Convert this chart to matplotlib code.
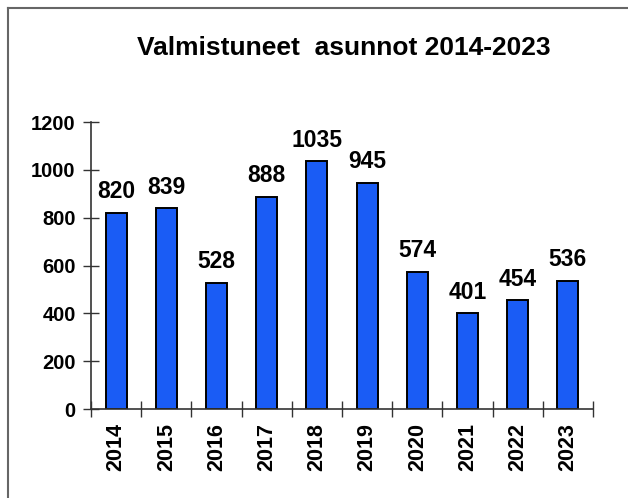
import numpy as np
import matplotlib.pyplot as plt
from matplotlib.lines import Line2D

plt.rcParams['font.family'] = ['Liberation Sans', 'DejaVu Sans']

years = ["2014", "2015", "2016", "2017", "2018", "2019", "2020", "2021", "2022", "2023"]
valmistuneet = [820, 839, 528, 888, 1035, 945, 574, 401, 454, 536]

fig = plt.figure(figsize=(6.28, 4.98), dpi=100)
ax = fig.add_axes([0.1449, 0.1787, 0.7994, 0.5763])

x = np.arange(len(years))
bars = ax.bar(x, valmistuneet, width=0.42, color="#1a5cf5", edgecolor="black", linewidth=1.4)

for xi, v in zip(x, valmistuneet):
    ax.text(xi, v + 40, str(v), ha="center", va="bottom", fontsize=16.5, fontweight="bold")

ax.set_xlim(-0.5, len(years) - 0.5)
ax.set_ylim(0, 1200)
ax.set_yticks(range(0, 1201, 200))
ax.set_xticks(x)
ax.set_xticklabels(years, rotation=90, fontsize=15.5, fontweight="bold")
ax.set_xticks(np.arange(-0.5, len(years), 1), minor=True)
for lab in ax.get_yticklabels():
    lab.set_fontweight("bold")
    lab.set_fontsize(14.5)

ax.tick_params(axis="x", which="major", length=0, pad=10)
ax.tick_params(axis="x", which="minor", direction="inout", length=12, width=1, color="#333333")
ax.tick_params(axis="y", direction="inout", length=12, width=1, color="#333333", pad=5)

for s in ["top", "right"]:
    ax.spines[s].set_visible(False)
for s in ["left", "bottom"]:
    ax.spines[s].set_color("#333333")
    ax.spines[s].set_linewidth(1.2)

fig.text(0.548, 0.904, "Valmistuneet  asunnot 2014-2023", ha="center", va="center",
         fontsize=19, fontweight="bold")

# kehys vasemmalle ja ylös
fig.add_artist(Line2D([8 / 628, 8 / 628], [0, 1 - 8 / 498], transform=fig.transFigure,
                      color="#666666", linewidth=1.5))
fig.add_artist(Line2D([8 / 628, 1], [1 - 8 / 498, 1 - 8 / 498], transform=fig.transFigure,
                      color="#666666", linewidth=1.5))

fig.savefig("out.png", dpi=100)
